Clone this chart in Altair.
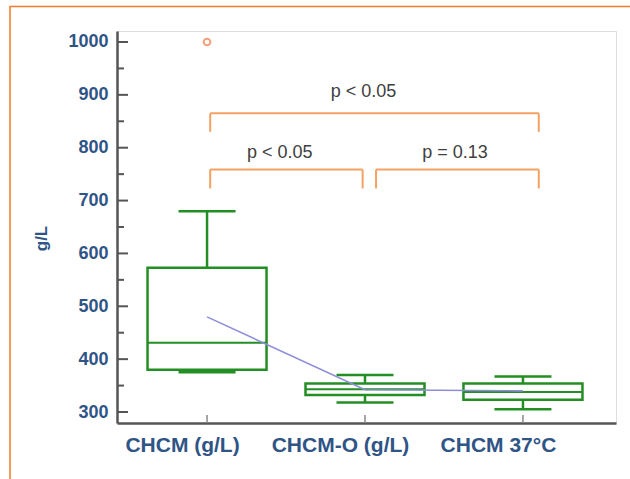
import altair as alt
import pandas as pd

# ---- data ----
categories = ["CHCM (g/L)", "CHCM-O (g/L)", "CHCM 37°C"]
positions = [1, 2, 3]
whisker_low = [375, 318, 305]
q1 = [380, 332, 323]
median = [431, 343, 338]
q3 = [573, 354, 354]
whisker_high = [680, 370, 367]
means = [480, 342, 340]
outlier_pos = [1]
outlier_val = [1000]

bracket_left = [1.02, 1.02, 2.07]
bracket_right = [3.10, 1.985, 3.10]
bracket_top = [865, 759, 759]
bracket_bottom = [830, 723, 723]
label_text = ["p < 0.05", "p < 0.05", "p = 0.13"]
label_x = [1.99, 1.46, 2.57]
label_y = [905, 790, 790]

major_ticks = [300, 400, 500, 600, 700, 800, 900, 1000]
minor_ticks = [350, 450, 550, 650, 750, 850, 950]

# ---- styles ----
GREEN = "#238E23"
ORANGE = "#F4A264"
BLUE_TXT = "#2F5486"
AXIS = "#555555"
FONT = "Liberation Sans"

box_df = pd.DataFrame({"pos": positions, "cat": categories, "wlo": whisker_low,
                       "q1": q1, "med": median, "q3": q3, "whi": whisker_high,
                       "mean": means})
out_df = pd.DataFrame({"pos": outlier_pos, "val": outlier_val})
seg_rows = []
for l, r, t, b in zip(bracket_left, bracket_right, bracket_top, bracket_bottom):
    seg_rows.append({"x": l, "x2": r, "y": t, "y2": t})
    seg_rows.append({"x": l, "x2": l, "y": t, "y2": b})
    seg_rows.append({"x": r, "x2": r, "y": t, "y2": b})
seg_df = pd.DataFrame(seg_rows)
lab_df = pd.DataFrame({"t": label_text, "x": label_x, "y": label_y})
maj_df = pd.DataFrame({"v": major_ticks})
min_df = pd.DataFrame({"v": minor_ticks})

label_expr = "datum.value == 1 ? '%s' : datum.value == 2 ? '%s' : datum.value == 3 ? '%s' : ''" % tuple(categories)

xscale = alt.Scale(domain=[0.43, 3.589], nice=False, zero=False)
yscale = alt.Scale(domain=[279.2, 1020.8], nice=False, zero=False)

X = alt.X("pos:Q", scale=xscale, axis=alt.Axis(
    values=positions, labelExpr=label_expr, ticks=False, grid=False,
    domainColor=AXIS, domainWidth=2.5, labelFont=FONT, labelFontSize=21,
    labelFontWeight="bold", labelColor=BLUE_TXT, labelPadding=11, labelOffset=-25,
    title=None))
Y = alt.Y("q1:Q", scale=yscale, axis=alt.Axis(
    values=major_ticks, format="d", ticks=False, grid=False, domainColor=AXIS,
    domainWidth=2.5, labelFont=FONT, labelFontSize=18, labelFontWeight="bold",
    labelColor=BLUE_TXT, labelPadding=9, title="g/L", titleFont=FONT,
    titleFontSize=17, titleFontWeight="bold", titleColor=BLUE_TXT,
    titleX=-67, titleY=207))

border = alt.Chart(alt.Data(values=[{"a": 1}])).mark_rect(
    fill=None, stroke="#F07A2E", strokeWidth=1.5).encode(
    x=alt.value(-107), x2=alt.value(700), y=alt.value(-24.5), y2=alt.value(600))

base = alt.Chart(box_df)
boxes = base.mark_rect(fill="white", stroke=GREEN, strokeWidth=2.5,
                       xOffset=-59.5, x2Offset=59.5).encode(
    x=X, x2="pos:Q", y=Y, y2="q3:Q")
whisk_up = base.mark_rule(color=GREEN, strokeWidth=2.5).encode(
    x="pos:Q", y="q3:Q", y2="whi:Q")
whisk_dn = base.mark_rule(color=GREEN, strokeWidth=2.5).encode(
    x="pos:Q", y="wlo:Q", y2="q1:Q")
cap_up = base.mark_rule(color=GREEN, strokeWidth=2.5, xOffset=-28.5,
                        x2Offset=28.5).encode(x="pos:Q", x2="pos:Q", y="whi:Q")
cap_dn = base.mark_rule(color=GREEN, strokeWidth=2.5, xOffset=-28.5,
                        x2Offset=28.5).encode(x="pos:Q", x2="pos:Q", y="wlo:Q")
med = base.mark_rule(color=GREEN, strokeWidth=2, xOffset=-59.5,
                     x2Offset=59.5).encode(x="pos:Q", x2="pos:Q", y="med:Q")
mean_line = base.mark_line(color="#8E8ED8", strokeWidth=1.6).encode(
    x="pos:Q", y="mean:Q")
outl = alt.Chart(out_df).mark_point(shape="circle", filled=False, color="#F4A07A",
                                    size=45, strokeWidth=2, opacity=1).encode(
    x="pos:Q", y="val:Q")

brackets = alt.Chart(seg_df).mark_rule(color=ORANGE, strokeWidth=2).encode(
    x="x:Q", x2="x2:Q", y="y:Q", y2="y2:Q")
labels = alt.Chart(lab_df).mark_text(font=FONT, fontSize=18, color="#404040",
                                     align="center", baseline="middle").encode(
    x="x:Q", y="y:Q", text="t:N")

maj_ticks = alt.Chart(maj_df).mark_rule(color=AXIS, strokeWidth=2).encode(
    y="v:Q", x=alt.value(0), x2=alt.value(11))
min_ticks = alt.Chart(min_df).mark_rule(color=AXIS, strokeWidth=2).encode(
    y="v:Q", x=alt.value(0), x2=alt.value(7))
x_ticks = alt.Chart(pd.DataFrame({"p": positions})).mark_rule(
    color="#888888", strokeWidth=1.5).encode(
    x="p:Q", y=alt.value(392), y2=alt.value(384))

chart = alt.layer(border, boxes, whisk_up, whisk_dn, cap_up, cap_dn, med,
                  outl, brackets, labels, maj_ticks, min_ticks, x_ticks,
                  mean_line).properties(
    width=499, height=392,
    autosize=alt.AutoSizeParams(type="none"),
    padding={"left": 117, "top": 31, "right": 14, "bottom": 56},
).configure_view(stroke=None).configure(background="white")

chart.save("out.html", embed_options={"renderer": "svg", "actions": False})
